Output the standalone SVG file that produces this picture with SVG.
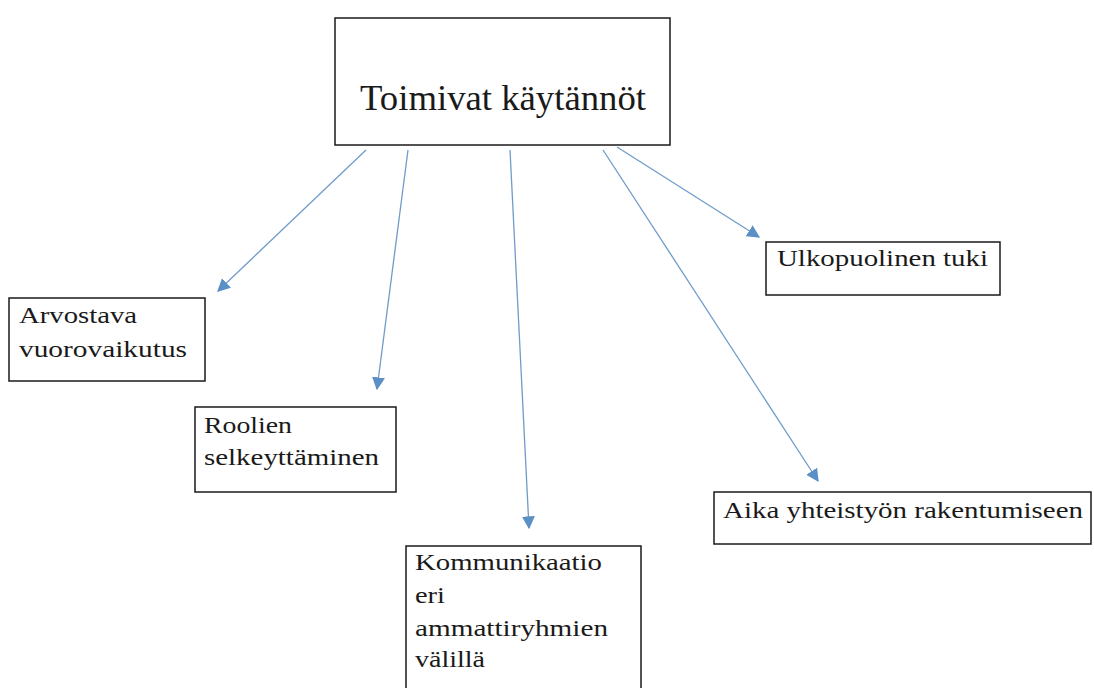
<svg xmlns="http://www.w3.org/2000/svg" width="1094" height="688" viewBox="0 0 1094 688">
  <style>
    .box { fill: #ffffff; stroke: #1a1a1a; stroke-width: 1.5; }
    .lbl { font-family: "Liberation Serif", "DejaVu Serif", serif; font-size: 23px; fill: #1a1a1a; }
    .title { font-family: "Liberation Serif", "DejaVu Serif", serif; font-size: 35px; fill: #1a1a1a; }
    .conn { stroke: #6f9cc9; stroke-width: 1.3; fill: none; marker-end: url(#arrow); }
  </style>
  <defs>
    <marker id="arrow" viewBox="0 0 10 10" refX="9" refY="5" markerWidth="13" markerHeight="13" markerUnits="userSpaceOnUse" orient="auto">
      <path d="M0,0 L10,5 L0,10 Z" fill="#5b90c6"/>
    </marker>
  </defs>
  <rect width="1094" height="688" fill="#ffffff"/>

  <g id="connectors">
    <line class="conn" x1="366" y1="150" x2="218" y2="291"/>
    <line class="conn" x1="408" y1="150" x2="377" y2="389"/>
    <line class="conn" x1="510" y1="150" x2="529" y2="528"/>
    <line class="conn" x1="603" y1="150" x2="818" y2="481"/>
    <line class="conn" x1="617" y1="147" x2="759" y2="237"/>
  </g>

  <g id="node-main">
    <rect class="box" x="335" y="18" width="335" height="127"/>
    <text class="title" x="360" y="110" textLength="286" lengthAdjust="spacingAndGlyphs">Toimivat käytännöt</text>
  </g>

  <g id="node-arvostava">
    <rect class="box" x="9" y="298" width="196" height="83"/>
    <text class="lbl" x="19" y="323" textLength="118" lengthAdjust="spacingAndGlyphs">Arvostava</text>
    <text class="lbl" x="19" y="357" textLength="168" lengthAdjust="spacingAndGlyphs">vuorovaikutus</text>
  </g>

  <g id="node-roolien">
    <rect class="box" x="195" y="407" width="201" height="85"/>
    <text class="lbl" x="204" y="433" textLength="88" lengthAdjust="spacingAndGlyphs">Roolien</text>
    <text class="lbl" x="204" y="465" textLength="175" lengthAdjust="spacingAndGlyphs">selkeyttäminen</text>
  </g>

  <g id="node-kommunikaatio">
    <rect class="box" x="406" y="546" width="235" height="150"/>
    <text class="lbl" x="415" y="570" textLength="187" lengthAdjust="spacingAndGlyphs">Kommunikaatio</text>
    <text class="lbl" x="415" y="603" textLength="30" lengthAdjust="spacingAndGlyphs">eri</text>
    <text class="lbl" x="415" y="636" textLength="193" lengthAdjust="spacingAndGlyphs">ammattiryhmien</text>
    <text class="lbl" x="415" y="667" textLength="70" lengthAdjust="spacingAndGlyphs">välillä</text>
  </g>

  <g id="node-ulkopuolinen">
    <rect class="box" x="766" y="242" width="234" height="53"/>
    <text class="lbl" x="777" y="266" textLength="211" lengthAdjust="spacingAndGlyphs">Ulkopuolinen tuki</text>
  </g>

  <g id="node-aika">
    <rect class="box" x="714" y="492" width="377" height="52"/>
    <text class="lbl" x="723" y="518" textLength="360" lengthAdjust="spacingAndGlyphs">Aika yhteistyön rakentumiseen</text>
  </g>
</svg>
